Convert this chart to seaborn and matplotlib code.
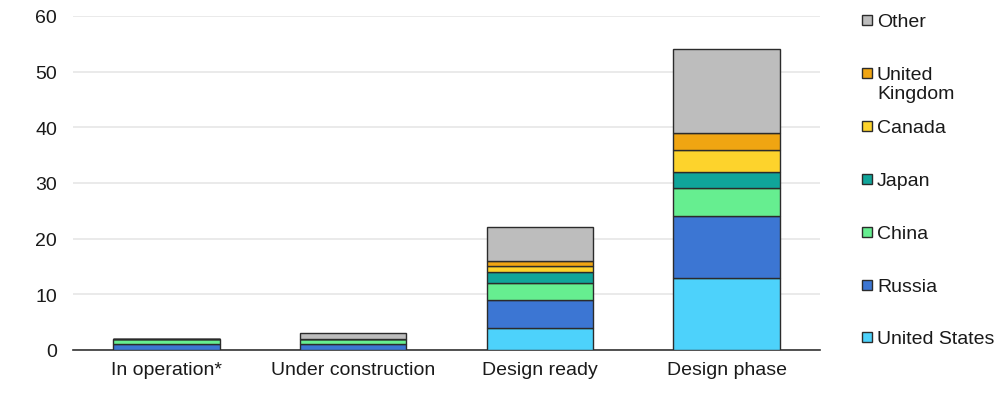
import numpy as np
import matplotlib
matplotlib.use("Agg")
import matplotlib.pyplot as plt
from matplotlib.patches import Rectangle
import seaborn as sns

# Data
stages = ["In operation*", "Under construction", "Design ready", "Design phase"]
united_states = [0, 0, 4, 13]
russia = [1, 1, 5, 11]
china = [1, 1, 3, 5]
japan = [0, 0, 2, 3]
canada = [0, 0, 1, 4]
united_kingdom = [0, 0, 1, 3]
other = [0, 1, 6, 15]

series_names = ["United States", "Russia", "China", "Japan", "Canada",
                "United\nKingdom", "Other"]
series_vals = [united_states, russia, china, japan, canada, united_kingdom, other]
colors = ["#4dd2fb", "#3c76d3", "#66ee90", "#10a59a", "#fdd32c", "#f0a512", "#bdbdbd"]

sns.set_theme(style="white")
plt.rcParams["font.family"] = ["Liberation Sans", "DejaVu Sans"]

fig = plt.figure(figsize=(10, 4.02), dpi=100)
ax = fig.add_axes([0.073, 0.127, 0.747, 0.831])

bottom = np.zeros(len(stages))
for name, vals, col in zip(series_names, series_vals, colors):
    sns.barplot(x=stages, y=vals, bottom=bottom, color=col, width=0.57,
                edgecolor="#2b2b2b", linewidth=1.0, ax=ax, zorder=3,
                saturation=1)
    bottom = bottom + np.array(vals)

ax.set_ylim(0, 60)
ax.set_yticks(range(0, 61, 10))
ax.set_xlim(-0.5, len(stages) - 0.5)
ax.yaxis.grid(True, color="#e6e6e6", linewidth=1.2, zorder=0)
ax.set_axisbelow(True)
for s in ["left", "right", "top"]:
    ax.spines[s].set_visible(False)
ax.spines["bottom"].set_color("#333333")
ax.spines["bottom"].set_linewidth(1.2)
ax.tick_params(axis="both", length=0, labelsize=14, colors="#1a1a1a")
ax.tick_params(axis="x", pad=8)
ax.tick_params(axis="y", pad=11.5)
ax.set_xlabel("")
ax.set_ylabel("")

# Legend on the right, top to bottom in reverse stacking order
legend_y = [21, 74, 127, 180, 233, 286, 338]
W, H = 1000, 402
for name, col, yp in zip(series_names[::-1], colors[::-1], legend_y):
    fig.patches.append(Rectangle((862 / W, 1 - (yp + 5) / H), 10 / W, 10 / H,
                                 transform=fig.transFigure, facecolor=col,
                                 edgecolor="#2b2b2b", linewidth=1.0))
    fig.text(877 / W, 1 - (yp - 7) / H, name, fontsize=14, color="#1a1a1a",
             va="top", ha="left", linespacing=1.18)

fig.savefig("out.png", dpi=100)
